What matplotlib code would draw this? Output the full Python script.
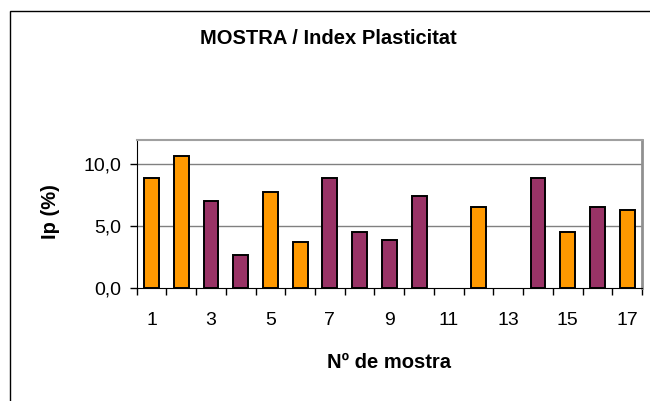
import matplotlib
matplotlib.use("Agg")
import matplotlib.pyplot as plt
from matplotlib.patches import Rectangle
import numpy as np

samples = list(range(1, 18))
ip_values = [8.87, 10.67, 7.08, 2.70, 7.76, 3.70, 8.87, 4.51, 3.86, 7.43,
             0.0, 6.59, 0.0, 8.87, 4.51, 6.59, 6.29]
bar_colors = ["#FF9900", "#FF9900", "#993366", "#993366", "#FF9900", "#FF9900",
              "#993366", "#993366", "#993366", "#993366", "#993366", "#FF9900",
              "#993366", "#993366", "#FF9900", "#993366", "#FF9900"]
xtick_labels = [str(s) for s in samples if s % 2 == 1]
yticks = [0, 5, 10]
ytick_labels = ["0,0", "5,0", "10,0"]

plt.rcParams['font.family'] = ['Liberation Sans', 'DejaVu Sans']

W, H = 650, 401
fig = plt.figure(figsize=(W / 100, H / 100), dpi=100)

# outer chart border
fig.patches.append(Rectangle((9.5 / W, -0.05), 1.0, (H - 11) / H + 0.05,
                             transform=fig.transFigure, fill=False,
                             edgecolor="black", linewidth=1.0))

left, right, top, bottom = 136.7, 642.0, 139.5, 288.3
ax = fig.add_axes([left / W, 1 - bottom / H, (right - left) / W, (bottom - top) / H])

x = np.arange(len(samples))
vals = np.array(ip_values)
mask = vals > 0
ax.bar(x[mask], vals[mask], width=0.5,
       color=[c for c, m in zip(bar_colors, mask) if m],
       edgecolor="black", linewidth=1.4, zorder=3)

ax.set_xlim(-0.5, len(samples) - 0.5)
ax.set_ylim(0, 12)

for g in [5, 10]:
    ax.axhline(g, color="#808080", linewidth=1.0, zorder=1)

ax.set_yticks(yticks)
ax.set_yticklabels(ytick_labels, fontsize=14)

ax.set_xticks(np.arange(-0.5, len(samples), 1.0))
ax.set_xticklabels([])
ax.set_xticks([i for i, s in enumerate(samples) if s % 2 == 1], minor=True)
ax.set_xticklabels(xtick_labels, minor=True, fontsize=14)
ax.tick_params(axis="x", which="major", direction="out", length=5, width=1)
ax.tick_params(axis="x", which="minor", length=0, pad=17)
ax.tick_params(axis="y", direction="out", length=5, width=1, pad=6)

ax.spines["left"].set_color("black")
ax.spines["bottom"].set_color("black")
ax.spines["top"].set_color("#A0A0A0")
ax.spines["top"].set_linewidth(1.5)
ax.spines["right"].set_color("#909090")
ax.spines["right"].set_linewidth(2)

ax.set_xlabel("Nº de mostra", fontsize=14.5, fontweight="bold")
ax.xaxis.label.set_va("center")
ax.xaxis.set_label_coords(0.4986, (bottom - 362) / (bottom - top))
ax.set_ylabel("Ip (%)", fontsize=14.5, fontweight="bold")
ax.yaxis.label.set_va("center")
ax.yaxis.set_label_coords((50 - left) / (right - left), (bottom - 212) / (bottom - top))

fig.text(328 / W, 1 - 38 / H, "MOSTRA / Index Plasticitat",
         ha="center", va="center", fontsize=14.5, fontweight="bold")

fig.savefig("out.png", dpi=100)
